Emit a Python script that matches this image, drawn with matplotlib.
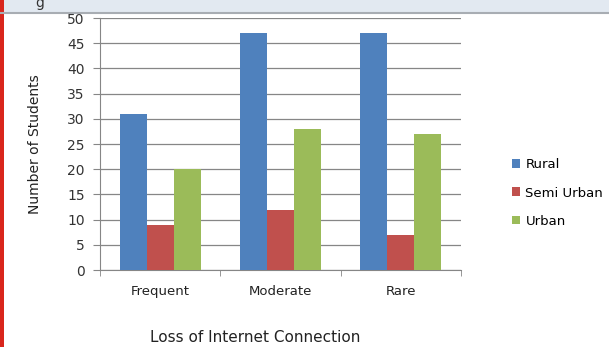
import matplotlib.pyplot as plt
import numpy as np
from matplotlib.patches import Rectangle
from matplotlib.lines import Line2D

categories = ["Frequent", "Moderate", "Rare"]
series = ["Rural", "Semi Urban", "Urban"]
rural = [31, 47, 47]
semi_urban = [9, 12, 7]
urban = [20, 28, 27]
yticks = [0, 5, 10, 15, 20, 25, 30, 35, 40, 45, 50]

colors = ["#4f81bd", "#c0504d", "#9bbb59"]
plt.rcParams['font.family'] = ['DejaVu Sans']

fig = plt.figure(figsize=(6.09, 3.47), dpi=100)
fig.patch.set_facecolor("white")

# page decorations around the chart
fig.add_artist(Rectangle((0, 1 - 12/347), 1, 12/347, transform=fig.transFigure,
                         facecolor="#e2e9f1", edgecolor="none"))
fig.add_artist(Line2D([0, 1], [1 - 13/347, 1 - 13/347], transform=fig.transFigure,
                      color="#a8adb3", lw=1.5))
fig.add_artist(Rectangle((0, 0), 4/609, 1, transform=fig.transFigure,
                         facecolor="#d9261c", edgecolor="none"))
fig.text(35/609, 1 - 3/347, "g", fontsize=10, color="#333333", va="center")

ax = fig.add_axes([100/609, 1 - 270/347, 361/609, 252/347])

x = np.arange(len(categories))
w = 0.225
for i, (vals, name) in enumerate(zip([rural, semi_urban, urban], series)):
    ax.bar(x + (i - 1) * w, vals, width=w, color=colors[i], label=name, zorder=3)

ax.set_xlim(-0.5, 2.5)
ax.set_ylim(0, 50)
ax.set_yticks(yticks)
ax.set_xticks(x)
ax.set_xticklabels(categories, fontsize=9.5, color="#222222")
ax.set_xticks([-0.5, 0.5, 1.5, 2.5], minor=True)
ax.tick_params(axis="x", which="major", length=0, pad=11)
ax.tick_params(axis="x", which="minor", length=4, color="#868686")
ax.tick_params(axis="y", length=5, color="#868686", labelsize=10, labelcolor="#333333", pad=6)
ax.yaxis.grid(True, color="#868686", lw=0.9, zorder=0)
for s in ["top", "right"]:
    ax.spines[s].set_visible(False)
ax.spines["left"].set_color("#868686")
ax.spines["bottom"].set_color("#868686")

ax.set_ylabel("Number of Students", fontsize=10, color="#222222", labelpad=18)
fig.text(255/609, 1 - 337/347, "Loss of Internet Connection", fontsize=11,
         color="#222222", ha="center", va="center")

ax.legend(loc="center left", bbox_to_anchor=(505/609, 1 - 193/347),
          bbox_transform=fig.transFigure, frameon=False, fontsize=9.5,
          handlelength=0.65, handleheight=0.65, handletextpad=0.4, labelspacing=1.15,
          borderpad=0)

fig.savefig("out.png", dpi=100)
